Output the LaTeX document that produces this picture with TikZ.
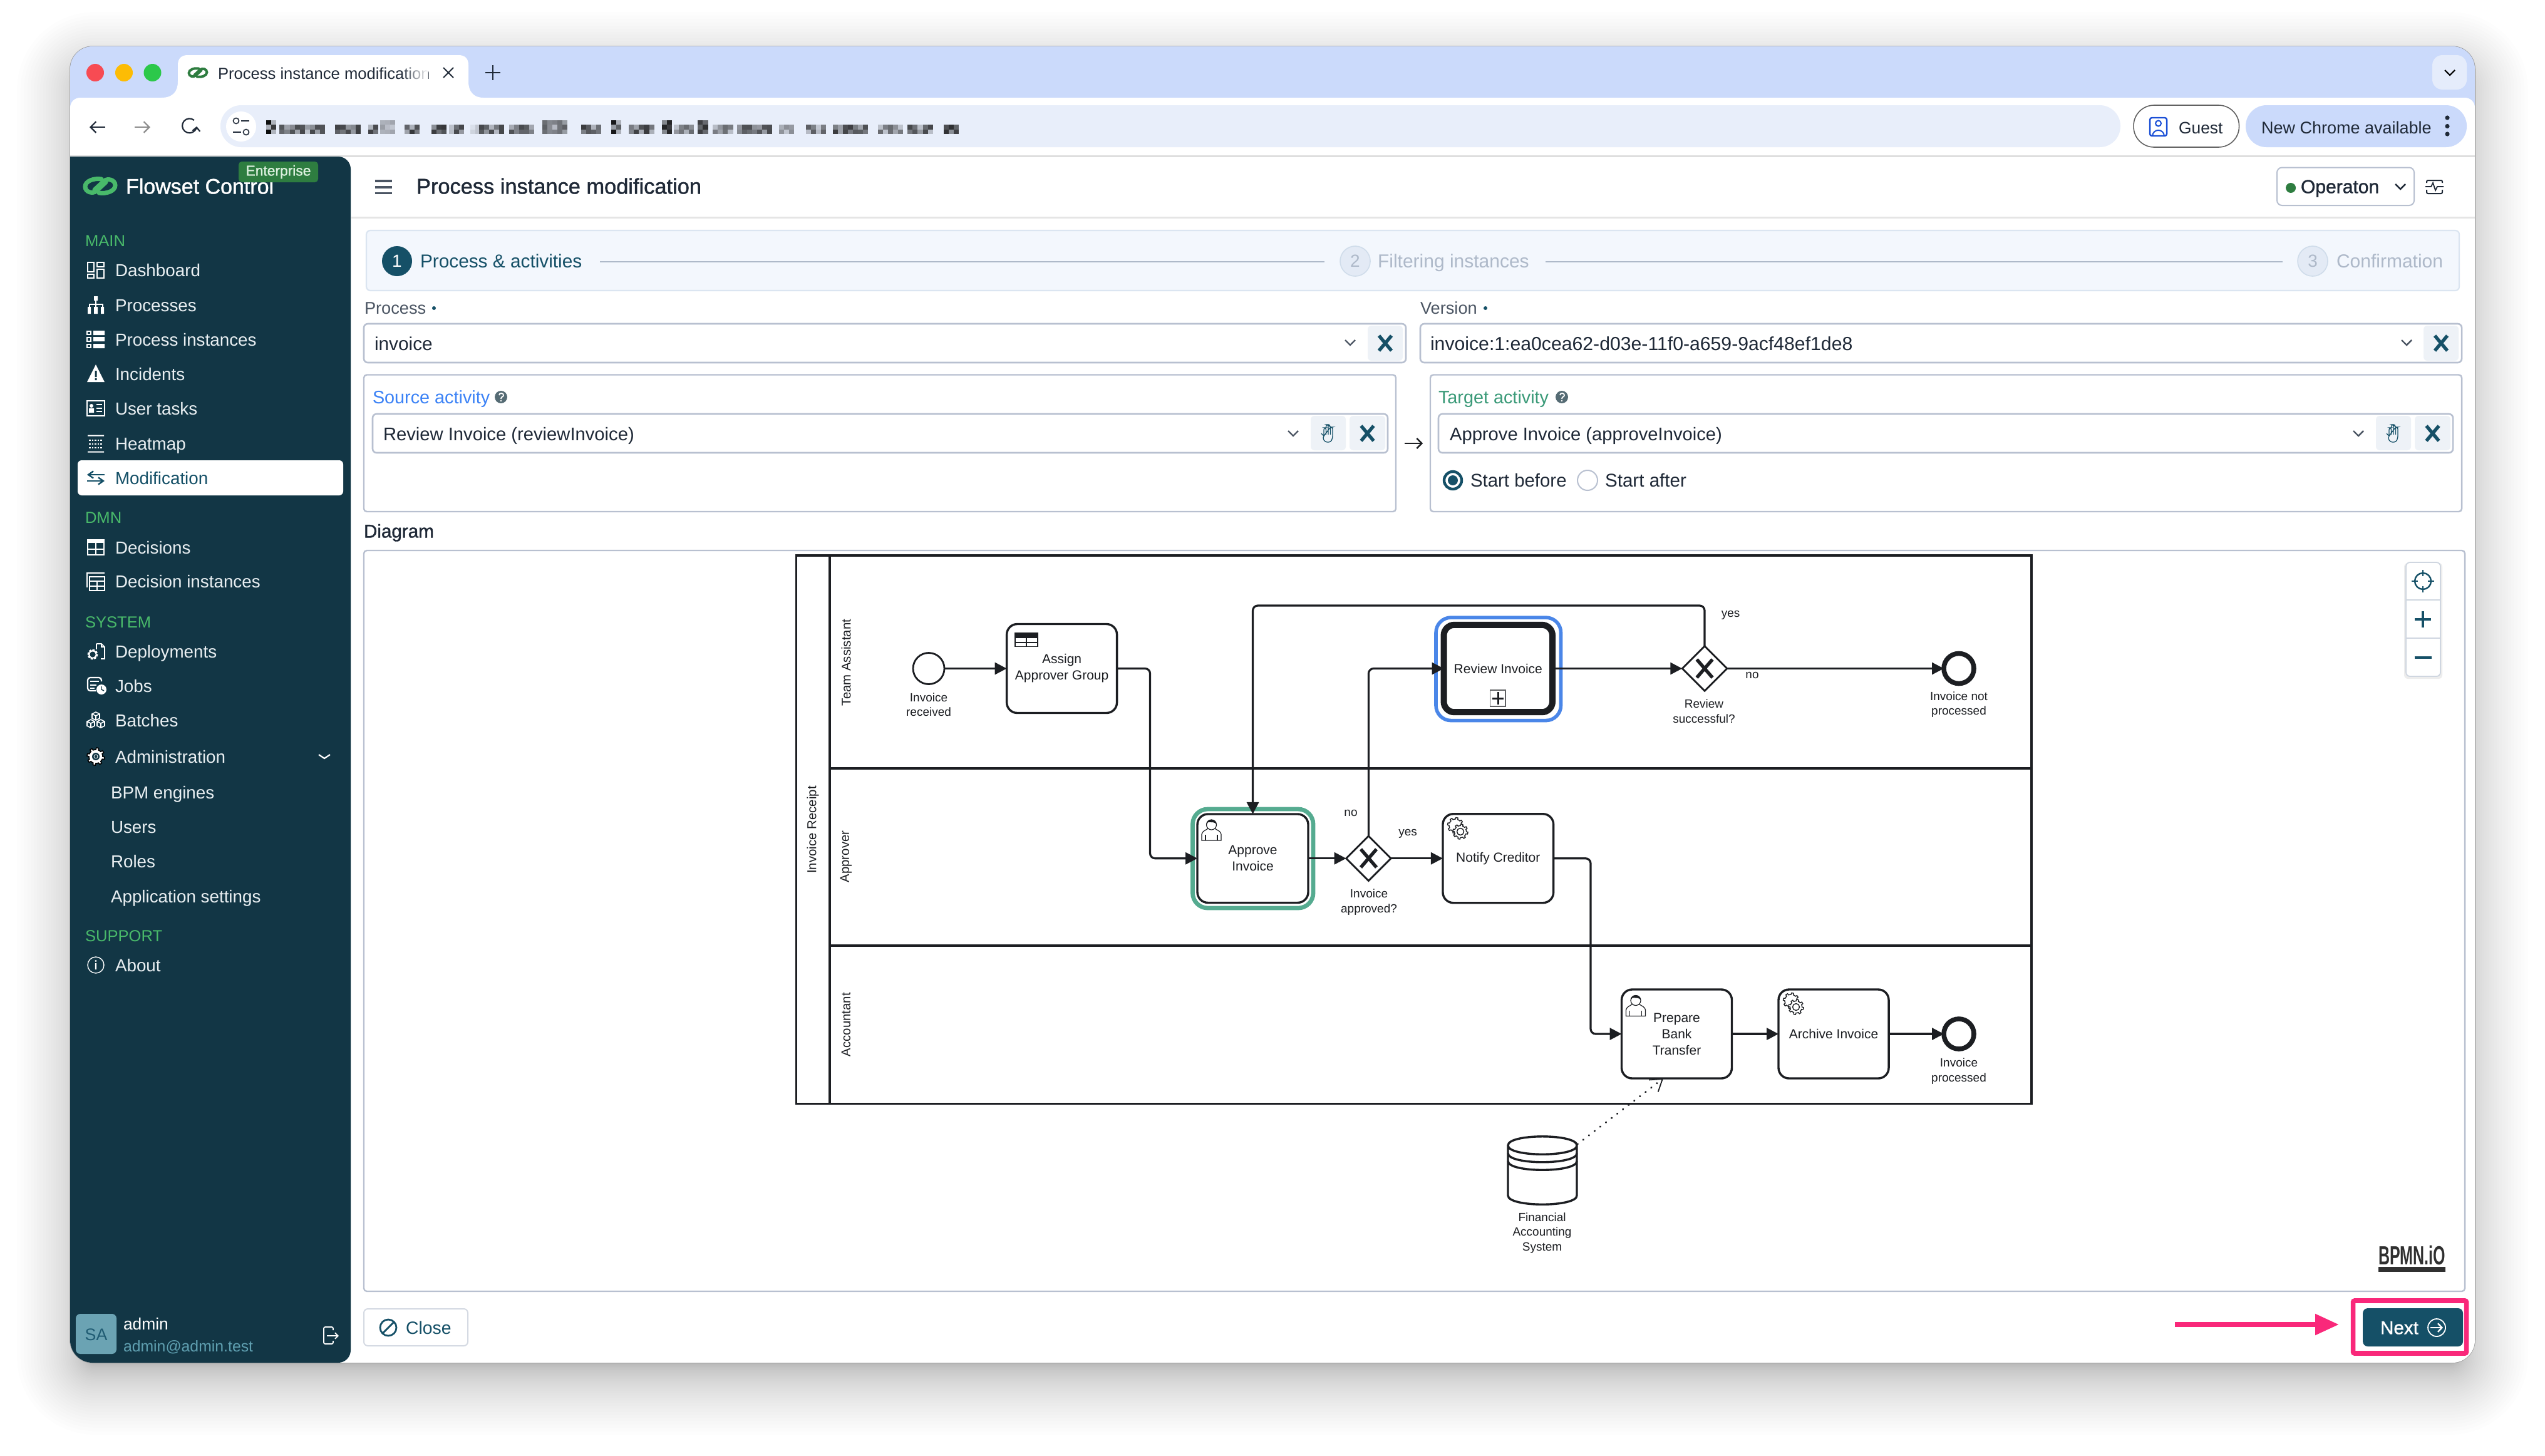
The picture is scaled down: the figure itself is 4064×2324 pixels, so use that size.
\documentclass[tikz,border=0pt]{standalone}
\usepackage{fontspec}
\setmainfont{Liberation Sans}
\newfontfamily\medf[FakeBold=1.2]{Liberation Sans}
\newfontfamily\bldf{Liberation Sans Bold}
\usepackage{graphicx}
\usetikzlibrary{arrows.meta,shapes.geometric,fadings}
\definecolor{tabbar}{HTML}{CBDAFB}
\definecolor{addr}{HTML}{E8EEFA}
\definecolor{side}{HTML}{123645}
\definecolor{teal}{HTML}{155067}
\definecolor{edge}{HTML}{B8C0D0}
\definecolor{navgreen}{HTML}{49B96A}
\definecolor{navtext}{HTML}{E9EFF2}
\definecolor{ink}{HTML}{1F2937}
\definecolor{ink2}{HTML}{4B5563}
\definecolor{flow}{HTML}{1C1E22}
\definecolor{hlgreen}{HTML}{55AB90}
\definecolor{hlblue}{HTML}{4A86E8}
\definecolor{pink}{HTML}{F9287A}
\definecolor{dim}{HTML}{AEB9C9}
\definecolor{btn}{HTML}{EEF2F7}
\definecolor{stepfill}{HTML}{F3F7FD}
\definecolor{stepedge}{HTML}{DBE5F1}
\definecolor{badge}{HTML}{2E7D40}
\definecolor{ctrl}{HTML}{CFD6E0}
\newcommand\fs[2]{\fontsize{#1}{#2}\selectfont}
\newcommand\chev[3]{\draw[#3,line width=.6pt] (#1-8,#2-4) -- (#1,#2+4) -- (#1+8,#2-4);}
\newcommand\xmark[2]{\draw[teal,line width=1.35pt] (#1-10,#2-12) -- (#1+10,#2+12) (#1+10,#2-12) -- (#1-10,#2+12);}
\newcommand\gearp[5]{\draw[#5] plot[domain=0:360,samples=97] ({#1+(#3+#4*(sin(8*\x)>0))*cos(\x)},{#2+(#3+#4*(sin(8*\x)>0))*sin(\x)}) -- cycle;}
\tikzset{
  x=0.25pt,y=-0.25pt,
  wh/.style 2 args={minimum width=#1*0.25pt,minimum height=#2*0.25pt},
  tx/.style={inner sep=0pt,outer sep=0pt,text height=.72em,text depth=.2em},
  tl/.style={tx,anchor=west},
  tc/.style={tx,anchor=center},
  navt/.style={tl,text=navtext,font=\fs{6.95}{8}},
  navh/.style={tl,text=navgreen,font=\fs{6.4}{8}},
  ic/.style={draw=white,line width=.5pt},
  icf/.style={fill=white},
  field/.style={draw=edge,line width=.65pt,rounded corners=1.6pt,fill=white},
  panel/.style={draw=edge,line width=.6pt,rounded corners=1.2pt,fill=white},
  task/.style={draw=flow,fill=white,line width=.85pt,rounded corners=4.2pt,inner sep=0pt,outer sep=0pt,align=center,text=flow,font=\fs{5.25}{6.5}},
  gate/.style={diamond,aspect=1,draw=flow,fill=white,line width=.7pt,inner sep=0pt,outer sep=0pt,minimum width=71.5*0.25pt,minimum height=71.5*0.25pt},
  gx/.style={draw=flow,line width=1.35pt},
  startev/.style={circle,draw=flow,fill=white,line width=.7pt,inner sep=0pt,outer sep=0pt,minimum size=50*0.25pt},
  endev/.style={circle,draw=flow,fill=white,line width=1.9pt,inner sep=0pt,outer sep=0pt,minimum size=48*0.25pt},
  seq/.style={draw=flow,line width=.8pt,rounded corners=2pt,-{Triangle[length=4.75pt,width=4.75pt]}},
  lbl/.style={inner sep=0pt,outer sep=0pt,align=center,text=flow,font=\fs{4.75}{5.9}},
  lane/.style={rotate=90,inner sep=0pt,outer sep=0pt,text=flow,font=\fs{5.1}{6}},
  pics/linkicon/.style 2 args={code={
    \draw[#1,line width=#2,line cap=round] (2,-11) .. controls (-10,-13) and (-24,-8) .. (-24,1) .. controls (-24,10) and (-12,13) .. (-6,8) -- (9,-6);
    \draw[#1,line width=#2,line cap=round] (-2,11) .. controls (10,13) and (24,8) .. (24,-1) .. controls (24,-10) and (12,-13) .. (6,-8) -- (-9,6);
  }},
  pics/usericon/.style={code={
    \draw[draw=flow,fill=white,line width=.3pt] (0,35) -- (0,25) .. controls (1,20) and (6,19) .. (10,16) -- (21,16) .. controls (25,19) and (30,20) .. (31,25) -- (31,35) -- cycle;
    \draw[flow,line width=.3pt] (6,35) -- (6,26) (25,35) -- (25,26);
    \draw[draw=flow,fill=white,line width=.3pt] (15.5,10) circle[radius=8];
    \fill[flow] (7.5,10) .. controls (7,-1) and (24,-1) .. (23.5,10) .. controls (22,5) and (15,6) .. (10,6) -- cycle;
  }},
  pics/servicon/.style={code={
    \gearp{14}{12}{10}{2.5}{draw=flow,fill=white,line width=.35pt}
    \gearp{22}{22}{9.5}{2.5}{draw=flow,fill=white,line width=.35pt}
    \draw[flow,line width=.35pt] (22,22) circle[radius=5.5];
  }},
  pics/handicon/.style={code={
    \draw[teal,line width=.32pt,rounded corners=.8pt] (-11,0) -- (-7,5) -- (-7,-9) -- (-3.5,-9) -- (-3.5,2) (-3.5,-9) -- (-3.5,-14) -- (0,-14) -- (0,2) (0,-13) -- (3.5,-13) -- (3.5,2) (3.5,-10) -- (7,-10) -- (7,7) -- (4,14) -- (-5,14) -- (-9,7) -- cycle;
  }},
  pics/helpicon/.style={code={
    \fill[#1] (0,0) circle[radius=10];
    \draw[white,line width=.45pt] (-3,-3) .. controls (-3,-7) and (4,-7) .. (4,-3) .. controls (4,0) and (0,-1) .. (0,3);
    \fill[white] (0,6) circle[radius=1.4];
  }},
  pics/icdash/.style={code={
    \draw[ic] (-13,-12) rectangle (-3,3) (-13,7) rectangle (-3,13) (2,-12) rectangle (13,-5) (2,-1) rectangle (13,13);
  }},
  pics/icproc/.style={code={
    \fill[white] (-3,-14) rectangle (3,-7) (-13,3) rectangle (-8,14) (-3,3) rectangle (3,14) (8,3) rectangle (13,14);
    \draw[ic] (0,-7) -- (0,3) (-10.5,3) -- (-10.5,-1) -- (10.5,-1) -- (10.5,3);
  }},
  pics/icinst/.style={code={
    \draw[white,line width=.35pt] (-14,-13) rectangle (-8,-8) (-14,-3) rectangle (-8,3) (-14,8) rectangle (-8,13);
    \fill[white] (-4,-14) rectangle (14,-7) (-4,-4) rectangle (14,3) (-4,7) rectangle (14,14);
  }},
  pics/icinc/.style={code={
    \fill[white] (0,-15) -- (14,13) -- (-14,13) -- cycle;
    \fill[side] (-1.5,-5) rectangle (1.5,5) (-1.5,7) rectangle (1.5,10);
  }},
  pics/icuser/.style={code={
    \draw[white,line width=.4pt] (-14,-12) rectangle (14,12);
    \fill[white] (-7,-4) circle[radius=3] (-11,7) rectangle (-3,0);
    \draw[white,line width=.35pt] (1,-6) -- (10,-6) (1,0) -- (10,0) (1,5) -- (10,5);
  }},
  pics/icheat/.style={code={
    \fill[white] (-13,-14) rectangle (13,-12) (-13,12) rectangle (13,14);
    \foreach \rr in {-7,-1,5} \foreach \cc in {-11,-6.5,-2,2.5,7} \fill[white] (\cc,\rr) rectangle (\cc+2.5,\rr+2.5);
  }},
  pics/icmod/.style={code={
    \draw[teal,line width=.6pt,-{Straight Barb[length=2pt,width=2.8pt]}] (14,-5) -- (-14,-5);
    \draw[teal,line width=.6pt,-{Straight Barb[length=2pt,width=2.8pt]}] (-14,5) -- (14,5);
  }},
  pics/ictable/.style={code={
    \draw[white,line width=.55pt] (-13,-12) rectangle (13,12);
    \fill[white] (-13,-13) rectangle (13,-7);
    \draw[white,line width=.5pt] (-13,2.5) -- (13,2.5) (0,-8) -- (0,12);
  }},
  pics/icdec/.style={code={
    \draw[white,line width=.5pt] (-10,-8) rectangle (14,14) (-10,-1) -- (14,-1) (-10,7) -- (14,7) (2,-1) -- (2,14);
    \draw[white,line width=.5pt] (-14,9) -- (-14,-14) -- (14,-14);
  }},
  pics/icdep/.style={code={
    \draw[white,line width=.4pt] (1,-12) -- (9,-12) -- (14,-7) -- (14,12) -- (8,12);
    \draw[white,line width=.4pt] (1,-12) -- (1,-3) (9,-12) -- (9,-7) -- (14,-7);
    \gearp{-5}{5}{5.5}{1.8}{draw=white,line width=.5pt,fill=side}
  }},
  pics/icjobs/.style={code={
    \draw[white,line width=.55pt,rounded corners=1pt] (9,-7) -- (9,-13) -- (-13,-13) -- (-13,8) -- (0,8);
    \draw[white,line width=.4pt] (-9,-7) -- (5,-7) (-9,-1) -- (1,-1) (-9,4) -- (-2,4);
    \fill[white] (9,6) circle[radius=8];
    \draw[side,line width=.35pt] (9,1) -- (9,6) -- (13,8);
  }},
  pics/icbatch/.style={code={
    \foreach \ox/\oy in {0/-7,-8/5,8/5}{
      \draw[white,line width=.4pt] (\ox,\oy-6) -- (\ox+6,\oy-3) -- (\ox+6,\oy+4) -- (\ox,\oy+7) -- (\ox-6,\oy+4) -- (\ox-6,\oy-3) -- cycle (\ox-6,\oy-3) -- (\ox,\oy) -- (\ox+6,\oy-3) (\ox,\oy) -- (\ox,\oy+7);
    }
  }},
  pics/icadmin/.style={code={
    \gearp{0}{0}{11}{3}{fill=white}
    \fill[side] (0,0) circle[radius=6];
    \draw[white,line width=.2pt] (0,0) circle[radius=3];
  }},
  pics/icabout/.style={code={
    \draw[white,line width=.35pt] (0,0) circle[radius=13];
    \fill[white] (-1.2,-3) rectangle (1.2,7) (0,-6.5) circle[radius=1.7];
  }},
}
\begin{document}
\begin{tikzpicture}
\useasboundingbox (0,0) rectangle (4064,2324);
\fill[white] (0,0) rectangle (4064,2324);
% soft window shadow
\foreach \i in {1,...,40}{
  \pgfmathsetmacro\sd{-30+115*(\i/40)^2}
  \pgfmathsetmacro\sr{(40+\sd)*0.25}
  \fill[black,opacity=0.0092,rounded corners=\sr pt] (112-\sd,104-\sd) rectangle (3952+\sd,2206+\sd);
}
% window
\fill[white,draw=black!42,line width=.35pt,rounded corners=9pt] (112,74) rectangle (3952,2176);
\begin{scope}
  \clip[rounded corners=9pt] (112,74) rectangle (3952,2176);
  \fill[tabbar] (112,74) rectangle (3952,170);
  \fill[white,rounded corners=4pt] (112,156) rectangle (3952,300);
  \fill[white] (112,200) rectangle (3952,2176);
  \fill[black!13] (112,247.5) rectangle (3952,250.5);
  % sidebar
  \fill[side] (112,250) [rounded corners=5pt] -- (560,250) -- (560,2176) [sharp corners] -- (112,2176) -- cycle;
\end{scope}
% traffic lights
\fill[fill={rgb,255:red,247;green,75;blue,83}] (152,116) circle[radius=14];
\fill[fill={rgb,255:red,253;green,188;blue,4}] (198,116) circle[radius=14];
\fill[fill={rgb,255:red,44;green,200;blue,74}] (243.5,116) circle[radius=14];
% active tab
\fill[white] (258,156) .. controls (276,156) and (284,146) .. (284,130) -- (284,104) .. controls (284,93) and (290,88) .. (300,88) -- (732,88) .. controls (742,88) and (748,93) .. (748,104) -- (748,130) .. controls (748,146) and (756,156) .. (772,156) -- cycle;
\pic[scale=.6] at (316,116) {linkicon={badge}{1pt}};
\begin{scope}
  \clip (340,90) rectangle (684,145);
  \node[tl,text=ink,font=\fs{6.4}{8}] (tabtitle) at (348,116) {Process instance modification};
\end{scope}
\fill[white,path fading=west] (640,92) rectangle (684,140);
\draw[ink,line width=.5pt] (708,108) -- (724,124) (724,108) -- (708,124);
\draw[ink,line width=.5pt] (787,104) -- (787,128) (775,116) -- (799,116);
\fill[fill={rgb,255:red,229;green,236;blue,251},rounded corners=4pt] (3884,88) rectangle (3939,143);
\draw[black,line width=.55pt] (3904,112) -- (3912,120) -- (3920,112);
% toolbar
\draw[ink,line width=.55pt,-{Straight Barb[length=2.2pt,width=4.4pt]}] (168,203) -- (143,203);
\draw[black!45,line width=.55pt,-{Straight Barb[length=2.2pt,width=4.4pt]}] (215,203) -- (240,203);
\draw[ink,line width=.55pt,-{Straight Barb[length=1.5pt,width=3pt]}] (310,192) arc[start angle=-50,end angle=-355,radius=11.5] ;
\fill[addr,rounded corners=8.3pt] (352,168) rectangle (3386,235);
\fill[white] (385,202) circle[radius=24];
\draw[ink,line width=.4pt] (385,193) -- (398,193) (372,211) -- (385,211);
\draw[ink,line width=.4pt] (377,193) circle[radius=4.5] (393,211) circle[radius=4.5];
% blurred address
\begin{scope}[shift={(100,0)},xscale=0.957]
  \foreach \ax/\bx/\hh/\gg in {340/348/30/95,362/430/20/70,455/495/20/75,510/525/20/85,530/555/30/35,570/595/20/80,615/635/20/80,645/662/20/70,680/690/20/20,695/730/20/70,745/785/20/70,800/835/30/60,865/895/20/75,915/925/30/90,945/980/20/75,1000/1015/30/85,1020/1050/20/55,1060/1075/34/80,1085/1115/20/55,1125/1180/20/70,1195/1215/20/40,1240/1270/20/60,1285/1340/20/75,1360/1395/20/55,1410/1450/20/70,1470/1490/20/80}{
    \pgfmathsetmacro\axb{\ax+8.4}
    \foreach \cx in {\ax,\axb,...,\bx}{
      \pgfmathsetmacro\sa{\gg*(0.25+0.75*abs(sin(\cx*5.3)))}
      \pgfmathsetmacro\sb{\gg*(0.25+0.75*abs(sin(\cx*9.7+40)))}
      \fill[black!\sa!addr] (\cx,199) rectangle (\cx+8.4,206.5);
      \fill[black!\sb!addr] (\cx,206.5) rectangle (\cx+8.4,213.5);
      \ifdim\hh pt>25pt \fill[black!\sb!addr] (\cx,192) rectangle (\cx+8.4,199); \fi
    }
  }
\end{scope}
% guest & update chip
\draw[draw=black!62,fill=white,line width=.4pt,rounded corners=8.2pt] (3407,168) rectangle (3575.5,235);
\draw[draw={rgb,255:red,26;green,79;blue,214},line width=.6pt,rounded corners=.8pt] (3433,188) rectangle (3460,217);
\draw[draw={rgb,255:red,26;green,79;blue,214},line width=.5pt] (3446.5,197) circle[radius=4.5] (3437,217) .. controls (3438,205) and (3455,205) .. (3456,217);
\node[tl,text=ink,font=\fs{6.6}{8}] (guest) at (3479,203) {Guest};
\fill[tabbar,rounded corners=8.3pt] (3586,168) rectangle (3939,235);
\node[tl,text=ink,font=\fs{6.75}{8}] (newchrome) at (3611,203) {New Chrome available};
\fill[ink] (3908,188) circle[radius=3.6] (3908,201.5) circle[radius=3.6] (3908,214) circle[radius=3.6];
% logo
\pic at (160,297) {linkicon={navgreen}{1.75pt}};
\node[tl,text=white,font={\medf\fs{8.5}{10}}] (brand) at (201,299) {Flowset Control};
\node[rounded corners=1.3pt,fill=badge,wh={127}{33},inner sep=0pt,outer sep=0pt,text={rgb,255:red,220;green,240;blue,222},font={\medf\fs{5.7}{7}}] (ent) at (444.5,274.5) {Enterprise};
% sidebar nav
\foreach \nm/\yy/\tt in {hmain/383/MAIN,hdmn/825.5/DMN,hsys/992/SYSTEM,hsup/1493/SUPPORT}{
  \node[navh] (\nm) at (136,\yy) {\tt};
}
\fill[white,rounded corners=1.6pt] (124,735) rectangle (548,791);
\foreach \nm/\yy/\tt in {ndash/431/Dashboard,nproc/487/Processes,ninst/542/Process instances,ninc/597/Incidents,nuser/652/User tasks,nheat/708.5/Heatmap,ndec/874/Decisions,ndecin/928.5/Decision instances,ndep/1040/Deployments,njobs/1095/Jobs,nbat/1150/Batches,nadm/1208/Administration,nabout/1541/About}{
  \node[navt] (\nm) at (184,\yy) {\tt};
}
\node[tl,text=teal,font=\fs{6.95}{8}] (nmod) at (184,763) {Modification};
\foreach \nm/\yy/\tt in {nbpm/1265/BPM engines,nusers/1320/Users,nroles/1375/Roles,napp/1431/Application settings}{
  \node[navt] (\nm) at (177,\yy) {\tt};
}
\pic at (153,431) {icdash};
\pic at (153,487) {icproc};
\pic at (153,542) {icinst};
\pic at (153,597) {icinc};
\pic at (153,652) {icuser};
\pic at (153,708.5) {icheat};
\pic at (153,763) {icmod};
\pic at (153,874) {ictable};
\pic at (153,928.5) {icdec};
\pic at (153,1040) {icdep};
\pic at (153,1095) {icjobs};
\pic at (153,1150) {icbatch};
\pic at (153,1208) {icadmin};
\pic at (153,1541) {icabout};
\draw[white,line width=.55pt] (509,1205) -- (518,1211) -- (527,1205);
% user
\fill[fill={rgb,255:red,107;green,163;blue,179},rounded corners=1.8pt] (121,2098) rectangle (186,2162);
\node[tc,text={rgb,255:red,32;green,92;blue,115},font=\fs{6.7}{8}] (avatar) at (153.5,2130) {SA};
\node[tl,text=white,font=\fs{6.6}{8}] (uname) at (197,2113) {admin};
\node[tl,text={rgb,255:red,95;green,159;blue,176},font=\fs{6.2}{8}] (umail) at (197,2148) {admin@admin.test};
\draw[white,line width=.45pt,rounded corners=.6pt] (532,2124) -- (532,2119) -- (517,2119) -- (517,2146) -- (532,2146) -- (532,2141);
\draw[white,line width=.45pt,-{Straight Barb[length=1.2pt,width=2.4pt]}] (522,2133) -- (541,2133);
% header
\fill[black!10] (560,345.5) rectangle (3952,348.5);
\draw[ink2,line width=.85pt] (598.5,289) -- (626,289) (598.5,299) -- (626,299) (598.5,308.5) -- (626,308.5);
\node[tl,text=ink,font={\medf\fs{8.6}{10}}] (title) at (665,299) {Process instance modification};
\draw[draw=edge,fill=white,line width=.5pt,rounded corners=2pt] (3636,267.5) rectangle (3855,328);
\fill[badge] (3658,300) circle[radius=8];
\node[tl,text=ink,font={\medf\fs{7.5}{9}}] (engine) at (3674,298) {Operaton};
\chev{3833}{298}{ink}
\draw[ink,line width=.5pt,rounded corners=.5pt] (3875,292) -- (3875,288) -- (3900,288) -- (3900,292) (3875,303) -- (3875,309) -- (3900,309) -- (3900,303);
\draw[ink,line width=.45pt] (3873,298) -- (3882,298) -- (3885,292) -- (3889,304) -- (3892,298) -- (3902,298);
% stepper
\draw[draw=stepedge,fill=stepfill,line width=.55pt,rounded corners=1.6pt] (585,368) rectangle (3927,464);
\draw[dim,line width=.45pt] (958,418) -- (2115,418) (2468,418) -- (3645,418);
\node[circle,fill=teal,minimum size=48*0.25pt,inner sep=0pt,outer sep=0pt,text=white,font=\fs{7}{8}] (s1) at (634,417) {1};
\node[tl,text=teal,font=\fs{7.45}{9}] (s1t) at (671,417) {Process \& activities};
\node[circle,fill={rgb,255:red,227;green,234;blue,245},draw={rgb,255:red,207;green,220;blue,234},line width=.4pt,minimum size=48*0.25pt,inner sep=0pt,outer sep=0pt,text=dim,font=\fs{7}{8}] (s2) at (2164,417) {2};
\node[tl,text=dim,font=\fs{7.5}{9}] (s2t) at (2200,417) {Filtering instances};
\node[circle,fill={rgb,255:red,227;green,234;blue,245},draw={rgb,255:red,207;green,220;blue,234},line width=.4pt,minimum size=48*0.25pt,inner sep=0pt,outer sep=0pt,text=dim,font=\fs{7}{8}] (s3) at (3693,417) {3};
\node[tl,text=dim,font=\fs{7.5}{9}] (s3t) at (3731,417) {Confirmation};
% process / version fields
\node[tl,text=ink2,font=\fs{6.8}{8}] (lproc) at (582,491) {Process};
\fill[teal] (693,492) circle[radius=3];
\node[tl,text=ink2,font=\fs{6.8}{8}] (lver) at (2268,491) {Version};
\fill[teal] (2372,492) circle[radius=3];
\draw[field] (581,517) rectangle (2245,579);
\node[tl,text=ink,font=\fs{7.45}{9}] (fproc) at (598,549.5) {invoice};
\chev{2156}{547}{ink2}
\fill[btn,rounded corners=1.5pt] (2184,520) rectangle (2240,576);
\xmark{2212}{548}
\draw[field] (2268,517) rectangle (3931,579);
\node[tl,text=ink,font=\fs{7.55}{9}] (fver) at (2284,549.5) {invoice:1:ea0cea62-d03e-11f0-a659-9acf48ef1de8};
\chev{3843}{547}{ink2}
\fill[btn,rounded corners=1.5pt] (3870,520) rectangle (3926,576);
\xmark{3898}{548}
% source panel
\draw[panel] (581,598.5) rectangle (2229,817);
\node[tl,text={rgb,255:red,59;green,130;blue,246},font=\fs{7.2}{9}] (lsrc) at (595,634) {Source activity};
\pic at (800,634) {helpicon={black!45!teal!70!white}};
\draw[field] (595,661) rectangle (2216,723);
\node[tl,text=ink,font=\fs{7.3}{9}] (fsrc) at (612,693) {Review Invoice (reviewInvoice)};
\chev{2065}{692}{ink2}
\fill[btn,rounded corners=1.5pt] (2093,664) rectangle (2149,719);
\pic at (2121,692) {handicon};
\fill[btn,rounded corners=1.5pt] (2155,664) rectangle (2212,719);
\xmark{2183.5}{692}
% target panel
\draw[panel] (2284,598.5) rectangle (3931,817);
\node[tl,text={rgb,255:red,58;green,154;blue,120},font=\fs{7.2}{9}] (ltgt) at (2297,634) {Target activity};
\pic at (2494,634) {helpicon={black!45!teal!70!white}};
\draw[field] (2297,661) rectangle (3917,723);
\node[tl,text=ink,font=\fs{7.3}{9}] (ftgt) at (2315,693) {Approve Invoice (approveInvoice)};
\chev{3766}{692}{ink2}
\fill[btn,rounded corners=1.5pt] (3794,664) rectangle (3850,719);
\pic at (3822,692) {handicon};
\fill[btn,rounded corners=1.5pt] (3856,664) rectangle (3913,719);
\xmark{3884.5}{692}
\draw[flow,line width=.6pt,-{Straight Barb[length=2pt,width=4pt]}] (2243,708) -- (2272,708);
\draw[teal,fill=white,line width=1.1pt] (2320,767) circle[radius=14];
\fill[teal] (2320,767) circle[radius=8];
\node[tl,text=ink,font=\fs{7.35}{9}] (rb1) at (2348,767) {Start before};
\draw[edge,fill=white,line width=.5pt] (2535,767) circle[radius=16];
\node[tl,text=ink,font=\fs{7.4}{9}] (rb2) at (2563,767) {Start after};
% diagram frame
\node[tl,text=ink,font={\medf\fs{7.4}{9}}] (ldiag) at (581,848) {Diagram};
\draw[panel] (581,879) rectangle (3936,2062);
% pool and lanes
\node[draw=flow,line width=.8pt,fill=white,inner sep=0pt,outer sep=0pt,wh={1972.5}{875.5}] (pool) at (2257.75,1324.75) {};
\draw[flow,line width=.8pt] (1325,887) -- (1325,1762.5);
\draw[flow,line width=1.05pt] (1325,1227) -- (3244,1227) (1325,1510) -- (3244,1510);
\node[lane] (lpool) at (1298,1325) {Invoice Receipt};
\node[lane] (lteam) at (1351,1058) {Team Assistant};
\node[lane] (lappr) at (1351,1368) {Approver};
\node[lane] (lacct) at (1351,1636) {Accountant};
% highlight rings
\node[draw=hlgreen,line width=1.7pt,rounded corners=6pt,inner sep=0pt,outer sep=0pt,wh={192.5}{158}] (ringA) at (2000.75,1371) {};
\node[draw=hlblue,line width=1.4pt,rounded corners=6pt,inner sep=0pt,outer sep=0pt,wh={199.5}{164.5}] (ringB) at (2392.75,1068.3) {};
% events, tasks, gateways
\node[startev] (start) at (1483,1067.5) {};
\node[task,wh={176}{142}] (assign) at (1695.6,1067.5) {Assign\\Approver Group};
\node[task,wh={177}{141.5}] (approve) at (2000.5,1370.7) {Approve\\Invoice};
\node[gate] (gwa) at (2185.4,1370.7) {};
\node[task,wh={173.5}{139.4},line width=2.5pt] (review) at (2392.25,1067.5) {Review Invoice};
\node[gate] (gwr) at (2722,1067.5) {};
\node[endev] (end1) at (3128,1067.5) {};
\node[task,wh={176.7}{142}] (notify) at (2392.3,1370.7) {Notify Creditor};
\node[task,wh={176}{142}] (prepare) at (2677.5,1651) {Prepare\\Bank\\Transfer};
\node[task,wh={176}{142}] (archive) at (2928,1651) {Archive Invoice};
\node[endev] (end2) at (3128,1651) {};
\draw[gx] (2173,1356) -- (2198,1385) (2198,1356) -- (2173,1385);
\draw[gx] (2709.5,1053) -- (2734.5,1082) (2734.5,1053) -- (2709.5,1082);
% markers
\draw[flow,fill=white,line width=.3pt] (1621,1010.5) rectangle (1657,1032.6);
\fill[flow] (1621,1010.5) rectangle (1657,1019);
\draw[flow,line width=.3pt] (1621,1026) -- (1657,1026) (1639,1019) -- (1639,1032.6);
\pic at (1919,1307) {usericon};
\pic at (2596.5,1587.5) {usericon};
\pic at (2310,1306) {servicon};
\pic at (2846,1586) {servicon};
\draw[flow!70,line width=.3pt] (2379.5,1102) rectangle (2404,1128);
\draw[flow,line width=.75pt] (2392,1105) -- (2392,1125) (2383,1115) -- (2401,1115);
% labels
\node[lbl] (l1) at (1483,1125) {Invoice\\received};
\node[lbl] (l2) at (2186,1440.5) {Invoice\\approved?};
\node[lbl] (l3) at (2721,1135.5) {Review\\successful?};
\node[lbl] (l4) at (3128,1125) {Invoice not\\processed};
\node[lbl] (l5) at (3128,1710.5) {Invoice\\processed};
\node[lbl] (fno) at (2157,1298) {no};
\node[lbl] (fyes) at (2248,1331) {yes};
\node[lbl] (ryes) at (2763.5,982.5) {yes};
\node[lbl] (rno) at (2798,1078) {no};
% connectors
\coordinate (c1) at (1836.5,1067.5);
\coordinate (c2) at (2540,1370.7);
\coordinate (c3) at (2000.5,967);
\coordinate (c4) at (2185.4,1067.5);
\draw[seq] (start) -- (assign);
\draw[seq] (assign.east) -- (c1) |- (approve.west);
\draw[seq] (approve) -- (gwa);
\draw[seq] (gwa.north) -- (c4) -- (review.west);
\draw[seq] (review) -- (gwr);
\draw[seq] (gwr) -- (end1);
\draw[seq] (gwr.north) |- (c3) -- (approve.north);
\draw[seq] (gwa) -- (notify);
\draw[seq] (notify.east) -- (c2) |- (prepare.west);
\draw[seq] (prepare) -- (archive);
\draw[seq] (archive) -- (end2);
% data store
\node[inner sep=0pt,outer sep=0pt,wh={110}{108}] (store) at (2463,1869) {};
\draw[flow,fill=white,line width=.85pt] (2408,1829) -- (2408,1909) .. controls (2408,1928) and (2518,1928) .. (2518,1909) -- (2518,1829) .. controls (2518,1810) and (2408,1810) .. (2408,1829) .. controls (2408,1848) and (2518,1848) .. (2518,1829);
\draw[flow,line width=.85pt] (2408,1841.5) .. controls (2408,1860.5) and (2518,1860.5) .. (2518,1841.5) (2408,1854) .. controls (2408,1873) and (2518,1873) .. (2518,1854);
\node[lbl] (l6) at (2462.5,1969) {Financial\\Accounting\\System};
\coordinate (dsa) at (2519,1827);
\coordinate (asa) at (2656,1722);
\draw[flow,line width=.75pt,line cap=round,dash pattern=on .15pt off 2.7pt,-{Straight Barb[length=4.5pt,width=6pt,line width=.45pt]}] (dsa) -- (asa);
% zoom controls
\fill[black!7,rounded corners=1.5pt] (3839,899) rectangle (3900,1084);
\draw[draw=ctrl,fill=white,line width=.45pt,rounded corners=1.6pt] (3842,898) rectangle (3897,1080);
\draw[ctrl,line width=.4pt] (3842,958) -- (3897,958) (3842,1019) -- (3897,1019);
\draw[teal,line width=.6pt] (3869,928) circle[radius=13];
\draw[teal,line width=.55pt] (3869,910) -- (3869,920) (3869,936) -- (3869,946) (3851,928) -- (3861,928) (3877,928) -- (3887,928);
\draw[teal,line width=1.15pt] (3869,976) -- (3869,1002) (3856,989) -- (3882,989);
\draw[teal,line width=1.15pt] (3855.5,1050) -- (3882.5,1050);
% bpmn.io
\node[inner sep=0pt,outer sep=0pt,anchor=south west,text={rgb,255:red,48;green,48;blue,48}] (bpmn) at (3798,2020) {\resizebox{26.75pt}{7.6pt}{\bldf BPMN.iO}};
\fill[fill={rgb,255:red,48;green,48;blue,48}] (3798,2023) rectangle (3905,2031);
% close
\draw[draw={rgb,255:red,213;green,218;blue,227},fill=white,line width=.5pt,rounded corners=1.6pt] (581,2090) rectangle (747,2149);
\draw[teal,line width=.7pt] (620,2120) circle[radius=13];
\draw[teal,line width=.7pt] (611,2129) -- (629,2111);
\node[tl,text=teal,font=\fs{7.1}{9}] (close) at (648,2120) {Close};
% next
\draw[pink,line width=1.9pt,rounded corners=.6pt] (3757.5,2077) rectangle (3938.5,2161);
\fill[teal,rounded corners=2pt] (3773,2089) rectangle (3933,2150);
\node[tl,text=white,font={\medf\fs{7.4}{9}}] (next) at (3801,2120) {Next};
\draw[white,line width=.45pt] (3891,2120) circle[radius=14];
\draw[white,line width=.6pt,-{Straight Barb[length=1.6pt,width=3.4pt]}] (3881,2120) -- (3901,2120);
\coordinate (pa) at (3473,2115);
\coordinate (pb) at (3735,2115);
\draw[pink,line width=2pt,-{Triangle[length=9.5pt,width=8pt]}] (pa) -- (pb);
\end{tikzpicture}
\end{document}
